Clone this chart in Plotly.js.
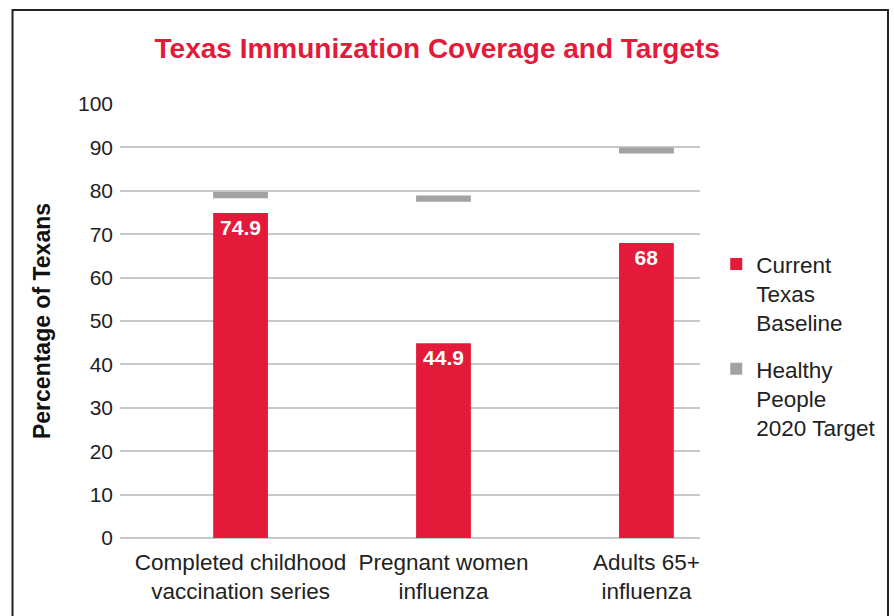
<!DOCTYPE html>
<html>
<head>
<meta charset="utf-8">
<script src="https://cdn.plot.ly/plotly-3.0.1.min.js"></script>
<style>html,body{margin:0;padding:0;background:#fff;}#chart{width:894px;height:616px;}</style>
</head>
<body>
<div id="chart"></div>
<script>
const categories = ["Completed childhood<br>vaccination series", "Pregnant women<br>influenza", "Adults 65+<br>influenza"];
const baseline = [74.9, 44.9, 68];
const targets = [79, 78.2, 89.3];
const yTicks = [0, 10, 20, 30, 40, 50, 60, 70, 80, 90, 100];

const RED = '#e31a3a';
const GRAY = '#a2a2a5';
const markThick = 1.4;

const traces = [
  {
    type: 'bar',
    name: 'Current<br>Texas<br>Baseline',
    legendgroup: 'a',
    x: categories,
    y: baseline,
    text: baseline.map(v => String(v)),
    textposition: 'inside',
    insidetextanchor: 'end',
    textfont: {family: 'Liberation Sans, Arial, sans-serif', size: 21, color: '#ffffff', weight: 'bold'},
    marker: {color: RED},
    width: 0.27,
    hoverinfo: 'x+y'
  },
  {
    type: 'bar',
    name: 'Healthy<br>People<br>2020 Target',
    legendgroup: 'b',
    x: categories,
    y: targets.map(() => markThick),
    base: targets.map(t => t - markThick / 2),
    marker: {color: GRAY},
    width: 0.27,
    hoverinfo: 'skip'
  }
];

const layout = {
  width: 894,
  height: 616,
  margin: {l: 120, r: 194, t: 104, b: 78},
  paper_bgcolor: '#ffffff',
  plot_bgcolor: '#ffffff',
  barmode: 'overlay',
  font: {family: 'Liberation Sans, Arial, sans-serif', color: '#222222', size: 20},
  title: {
    text: '<b>Texas Immunization Coverage and Targets</b>',
    font: {family: 'Liberation Sans, Arial, sans-serif', size: 28, color: RED},
    x: 0.547, xanchor: 'center', xref: 'paper',
    y: 0.922, yanchor: 'middle', yref: 'container'
  },
  xaxis: {
    type: 'category',
    range: [-0.594, 2.264],
    showgrid: false,
    zeroline: false,
    showline: false,
    ticks: '',
    ticklabelstandoff: 8,
    tickfont: {size: 22.5, color: '#222222'},
    fixedrange: true
  },
  yaxis: {
    range: [0, 100],
    tickvals: yTicks,
    ticktext: yTicks.map(String),
    showgrid: true,
    gridcolor: '#c8c8c8',
    gridwidth: 2,
    zeroline: true,
    zerolinecolor: '#c8c8c8',
    zerolinewidth: 2,
    showline: false,
    ticks: '',
    ticklabelstandoff: 6,
    tickfont: {size: 21, color: '#222222'},
    title: {
      text: '<b>Percentage of Texans</b>',
      font: {size: 23, color: '#111111'},
      standoff: 20
    },
    fixedrange: true
  },
  showlegend: true,
  legend: {
    x: 1.028, xanchor: 'left',
    y: 0.68, yanchor: 'top',
    font: {size: 22.5, color: '#222222'},
    traceorder: 'grouped',
    tracegroupgap: 14,
    valign: 'top',
    bgcolor: 'rgba(0,0,0,0)'
  },
  shapes: [
    {
      type: 'rect', xref: 'paper', yref: 'paper',
      x0: -0.1853, x1: 1.3241, y0: -0.2, y1: 1.2166,
      line: {color: '#222222', width: 2},
      fillcolor: 'rgba(0,0,0,0)', layer: 'below'
    }
  ]
};

Plotly.newPlot('chart', traces, layout, {displayModeBar: false, staticPlot: true});
</script>
</body>
</html>
